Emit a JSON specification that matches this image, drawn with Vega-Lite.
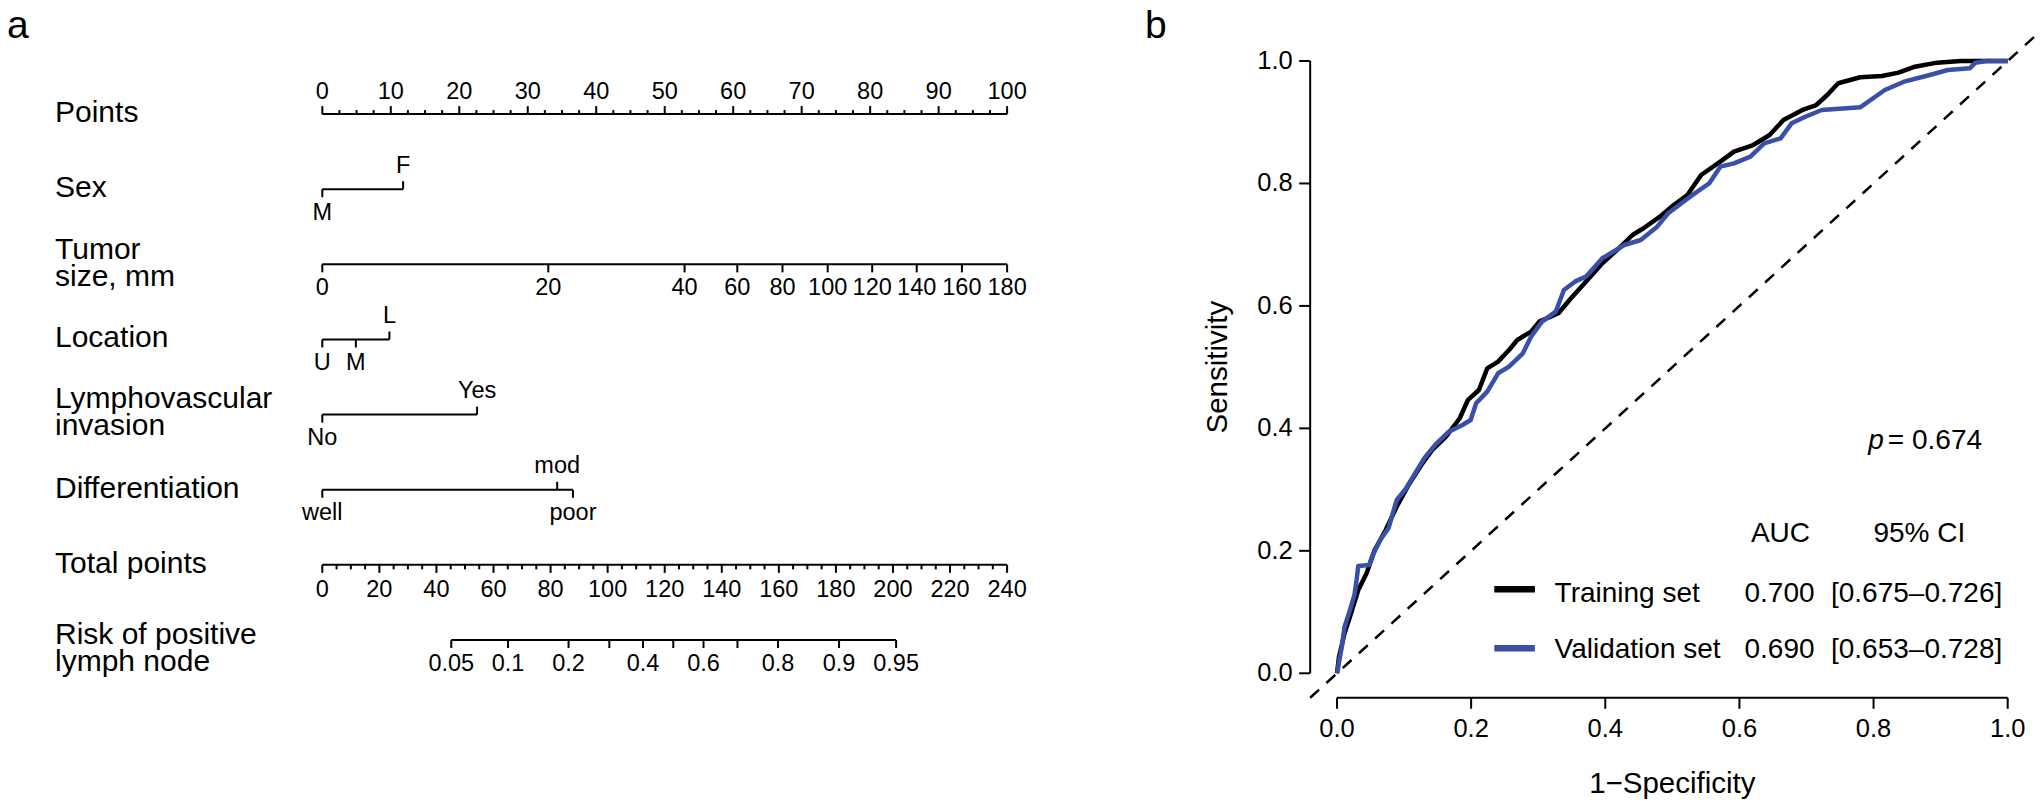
{
  "$schema": "https://vega.github.io/schema/vega-lite/v6.json",
  "width": 2040,
  "height": 805,
  "padding": 0,
  "autosize": {"type": "fit", "contains": "padding"},
  "background": "white",
  "config": {"font": "Liberation Sans", "view": {"stroke": null}},
  "datasets": {
    "nomo_lines": [
      {"var": "Points", "pts": 0, "pts_end": 100},
      {"var": "Sex", "pts": 0, "pts_end": 11.8},
      {"var": "Tumor\nsize, mm", "pts": 0, "pts_end": 100},
      {"var": "Location", "pts": 0, "pts_end": 9.8},
      {"var": "Lymphovascular\ninvasion", "pts": 0, "pts_end": 22.6},
      {"var": "Differentiation", "pts": 0, "pts_end": 36.6}
    ],
    "points_major": [
      {"var": "Points", "pts": 0, "label": "0"}, {"var": "Points", "pts": 10, "label": "10"},
      {"var": "Points", "pts": 20, "label": "20"}, {"var": "Points", "pts": 30, "label": "30"},
      {"var": "Points", "pts": 40, "label": "40"}, {"var": "Points", "pts": 50, "label": "50"},
      {"var": "Points", "pts": 60, "label": "60"}, {"var": "Points", "pts": 70, "label": "70"},
      {"var": "Points", "pts": 80, "label": "80"}, {"var": "Points", "pts": 90, "label": "90"},
      {"var": "Points", "pts": 100, "label": "100"}
    ],
    "points_minor": [
      {"var": "Points", "pts": 2.5}, {"var": "Points", "pts": 5}, {"var": "Points", "pts": 7.5},
      {"var": "Points", "pts": 12.5}, {"var": "Points", "pts": 15}, {"var": "Points", "pts": 17.5},
      {"var": "Points", "pts": 22.5}, {"var": "Points", "pts": 25}, {"var": "Points", "pts": 27.5},
      {"var": "Points", "pts": 32.5}, {"var": "Points", "pts": 35}, {"var": "Points", "pts": 37.5},
      {"var": "Points", "pts": 42.5}, {"var": "Points", "pts": 45}, {"var": "Points", "pts": 47.5},
      {"var": "Points", "pts": 52.5}, {"var": "Points", "pts": 55}, {"var": "Points", "pts": 57.5},
      {"var": "Points", "pts": 62.5}, {"var": "Points", "pts": 65}, {"var": "Points", "pts": 67.5},
      {"var": "Points", "pts": 72.5}, {"var": "Points", "pts": 75}, {"var": "Points", "pts": 77.5},
      {"var": "Points", "pts": 82.5}, {"var": "Points", "pts": 85}, {"var": "Points", "pts": 87.5},
      {"var": "Points", "pts": 92.5}, {"var": "Points", "pts": 95}, {"var": "Points", "pts": 97.5}
    ],
    "levels_up": [
      {"var": "Sex", "level": "F", "pts": 11.8},
      {"var": "Location", "level": "L", "pts": 9.8},
      {"var": "Lymphovascular\ninvasion", "level": "Yes", "pts": 22.6},
      {"var": "Differentiation", "level": "mod", "pts": 34.3}
    ],
    "levels_down": [
      {"var": "Sex", "level": "M", "pts": 0},
      {"var": "Tumor\nsize, mm", "level": "0", "pts": 0},
      {"var": "Tumor\nsize, mm", "level": "20", "pts": 33.0},
      {"var": "Tumor\nsize, mm", "level": "40", "pts": 52.9},
      {"var": "Tumor\nsize, mm", "level": "60", "pts": 60.6},
      {"var": "Tumor\nsize, mm", "level": "80", "pts": 67.2},
      {"var": "Tumor\nsize, mm", "level": "100", "pts": 73.8},
      {"var": "Tumor\nsize, mm", "level": "120", "pts": 80.3},
      {"var": "Tumor\nsize, mm", "level": "140", "pts": 86.8},
      {"var": "Tumor\nsize, mm", "level": "160", "pts": 93.4},
      {"var": "Tumor\nsize, mm", "level": "180", "pts": 100},
      {"var": "Location", "level": "U", "pts": 0},
      {"var": "Location", "level": "M", "pts": 4.9},
      {"var": "Lymphovascular\ninvasion", "level": "No", "pts": 0},
      {"var": "Differentiation", "level": "well", "pts": 0},
      {"var": "Differentiation", "level": "poor", "pts": 36.6}
    ],
    "total_lines": [
      {"var": "Total points", "tot": 0, "tot_end": 240},
      {"var": "Risk of positive\nlymph node", "tot": 45.2, "tot_end": 201.1}
    ],
    "total_major": [
      {"var": "Total points", "tot": 0, "label": "0"}, {"var": "Total points", "tot": 20, "label": "20"},
      {"var": "Total points", "tot": 40, "label": "40"}, {"var": "Total points", "tot": 60, "label": "60"},
      {"var": "Total points", "tot": 80, "label": "80"}, {"var": "Total points", "tot": 100, "label": "100"},
      {"var": "Total points", "tot": 120, "label": "120"}, {"var": "Total points", "tot": 140, "label": "140"},
      {"var": "Total points", "tot": 160, "label": "160"}, {"var": "Total points", "tot": 180, "label": "180"},
      {"var": "Total points", "tot": 200, "label": "200"}, {"var": "Total points", "tot": 220, "label": "220"},
      {"var": "Total points", "tot": 240, "label": "240"}
    ],
    "total_minor": [
      {"var": "Total points", "tot": 5}, {"var": "Total points", "tot": 10}, {"var": "Total points", "tot": 15},
      {"var": "Total points", "tot": 25}, {"var": "Total points", "tot": 30}, {"var": "Total points", "tot": 35},
      {"var": "Total points", "tot": 45}, {"var": "Total points", "tot": 50}, {"var": "Total points", "tot": 55},
      {"var": "Total points", "tot": 65}, {"var": "Total points", "tot": 70}, {"var": "Total points", "tot": 75},
      {"var": "Total points", "tot": 85}, {"var": "Total points", "tot": 90}, {"var": "Total points", "tot": 95},
      {"var": "Total points", "tot": 105}, {"var": "Total points", "tot": 110}, {"var": "Total points", "tot": 115},
      {"var": "Total points", "tot": 125}, {"var": "Total points", "tot": 130}, {"var": "Total points", "tot": 135},
      {"var": "Total points", "tot": 145}, {"var": "Total points", "tot": 150}, {"var": "Total points", "tot": 155},
      {"var": "Total points", "tot": 165}, {"var": "Total points", "tot": 170}, {"var": "Total points", "tot": 175},
      {"var": "Total points", "tot": 185}, {"var": "Total points", "tot": 190}, {"var": "Total points", "tot": 195},
      {"var": "Total points", "tot": 205}, {"var": "Total points", "tot": 210}, {"var": "Total points", "tot": 215},
      {"var": "Total points", "tot": 225}, {"var": "Total points", "tot": 230}, {"var": "Total points", "tot": 235}
    ],
    "risk": [
      {"var": "Risk of positive\nlymph node", "tot": 45.2, "risk": 0.05, "label": "0.05"},
      {"var": "Risk of positive\nlymph node", "tot": 65.1, "risk": 0.1, "label": "0.1"},
      {"var": "Risk of positive\nlymph node", "tot": 86.3, "risk": 0.2, "label": "0.2"},
      {"var": "Risk of positive\nlymph node", "tot": 100.6, "risk": 0.3, "label": ""},
      {"var": "Risk of positive\nlymph node", "tot": 112.4, "risk": 0.4, "label": "0.4"},
      {"var": "Risk of positive\nlymph node", "tot": 123.0, "risk": 0.5, "label": ""},
      {"var": "Risk of positive\nlymph node", "tot": 133.6, "risk": 0.6, "label": "0.6"},
      {"var": "Risk of positive\nlymph node", "tot": 145.5, "risk": 0.7, "label": ""},
      {"var": "Risk of positive\nlymph node", "tot": 159.7, "risk": 0.8, "label": "0.8"},
      {"var": "Risk of positive\nlymph node", "tot": 181.1, "risk": 0.9, "label": "0.9"},
      {"var": "Risk of positive\nlymph node", "tot": 201.1, "risk": 0.95, "label": "0.95"}
    ],
    "roc": [
      {"set": "Training set", "fpr": 0, "sens": 0},
      {"set": "Training set", "fpr": 0.003, "sens": 0.027},
      {"set": "Training set", "fpr": 0.0113, "sens": 0.0653},
      {"set": "Training set", "fpr": 0.0194, "sens": 0.0925},
      {"set": "Training set", "fpr": 0.0317, "sens": 0.136},
      {"set": "Training set", "fpr": 0.044, "sens": 0.163},
      {"set": "Training set", "fpr": 0.0562, "sens": 0.2014},
      {"set": "Training set", "fpr": 0.0726, "sens": 0.234},
      {"set": "Training set", "fpr": 0.089, "sens": 0.272},
      {"set": "Training set", "fpr": 0.1053, "sens": 0.3048},
      {"set": "Training set", "fpr": 0.1257, "sens": 0.3402},
      {"set": "Training set", "fpr": 0.1421, "sens": 0.3647},
      {"set": "Training set", "fpr": 0.1625, "sens": 0.3864},
      {"set": "Training set", "fpr": 0.183, "sens": 0.4165},
      {"set": "Training set", "fpr": 0.195, "sens": 0.446},
      {"set": "Training set", "fpr": 0.2116, "sens": 0.4627},
      {"set": "Training set", "fpr": 0.224, "sens": 0.498},
      {"set": "Training set", "fpr": 0.2402, "sens": 0.509},
      {"set": "Training set", "fpr": 0.2565, "sens": 0.528},
      {"set": "Training set", "fpr": 0.2688, "sens": 0.5443},
      {"set": "Training set", "fpr": 0.2893, "sens": 0.558},
      {"set": "Training set", "fpr": 0.3016, "sens": 0.5743},
      {"set": "Training set", "fpr": 0.3302, "sens": 0.588},
      {"set": "Training set", "fpr": 0.3466, "sens": 0.6097},
      {"set": "Training set", "fpr": 0.3711, "sens": 0.6396},
      {"set": "Training set", "fpr": 0.3956, "sens": 0.6696},
      {"set": "Training set", "fpr": 0.4202, "sens": 0.694},
      {"set": "Training set", "fpr": 0.4406, "sens": 0.7158},
      {"set": "Training set", "fpr": 0.457, "sens": 0.7268},
      {"set": "Training set", "fpr": 0.4815, "sens": 0.7457},
      {"set": "Training set", "fpr": 0.502, "sens": 0.7648},
      {"set": "Training set", "fpr": 0.5224, "sens": 0.7812},
      {"set": "Training set", "fpr": 0.5429, "sens": 0.8138},
      {"set": "Training set", "fpr": 0.5715, "sens": 0.8356},
      {"set": "Training set", "fpr": 0.5919, "sens": 0.852},
      {"set": "Training set", "fpr": 0.6205, "sens": 0.8628},
      {"set": "Training set", "fpr": 0.645, "sens": 0.8791},
      {"set": "Training set", "fpr": 0.6656, "sens": 0.9036},
      {"set": "Training set", "fpr": 0.6941, "sens": 0.92},
      {"set": "Training set", "fpr": 0.7146, "sens": 0.9281},
      {"set": "Training set", "fpr": 0.7309, "sens": 0.9445},
      {"set": "Training set", "fpr": 0.7473, "sens": 0.9636},
      {"set": "Training set", "fpr": 0.78, "sens": 0.9734},
      {"set": "Training set", "fpr": 0.8126, "sens": 0.9755},
      {"set": "Training set", "fpr": 0.8372, "sens": 0.981},
      {"set": "Training set", "fpr": 0.8618, "sens": 0.9907},
      {"set": "Training set", "fpr": 0.8944, "sens": 0.9973},
      {"set": "Training set", "fpr": 0.93, "sens": 1.0},
      {"set": "Training set", "fpr": 1.0, "sens": 1.0},
      {"set": "Validation set", "fpr": 0, "sens": 0},
      {"set": "Validation set", "fpr": 0.0072, "sens": 0.0435},
      {"set": "Validation set", "fpr": 0.0113, "sens": 0.0761},
      {"set": "Validation set", "fpr": 0.0194, "sens": 0.1034},
      {"set": "Validation set", "fpr": 0.026, "sens": 0.1279},
      {"set": "Validation set", "fpr": 0.0292, "sens": 0.1524},
      {"set": "Validation set", "fpr": 0.0317, "sens": 0.1752},
      {"set": "Validation set", "fpr": 0.048, "sens": 0.1768},
      {"set": "Validation set", "fpr": 0.0522, "sens": 0.1905},
      {"set": "Validation set", "fpr": 0.0644, "sens": 0.2177},
      {"set": "Validation set", "fpr": 0.0767, "sens": 0.2368},
      {"set": "Validation set", "fpr": 0.089, "sens": 0.283},
      {"set": "Validation set", "fpr": 0.1012, "sens": 0.2994},
      {"set": "Validation set", "fpr": 0.1135, "sens": 0.3211},
      {"set": "Validation set", "fpr": 0.1299, "sens": 0.3511},
      {"set": "Validation set", "fpr": 0.1463, "sens": 0.3729},
      {"set": "Validation set", "fpr": 0.1667, "sens": 0.3946},
      {"set": "Validation set", "fpr": 0.1871, "sens": 0.4055},
      {"set": "Validation set", "fpr": 0.1993, "sens": 0.4137},
      {"set": "Validation set", "fpr": 0.2074, "sens": 0.441},
      {"set": "Validation set", "fpr": 0.224, "sens": 0.46},
      {"set": "Validation set", "fpr": 0.2402, "sens": 0.49},
      {"set": "Validation set", "fpr": 0.2565, "sens": 0.5008},
      {"set": "Validation set", "fpr": 0.2771, "sens": 0.5226},
      {"set": "Validation set", "fpr": 0.2893, "sens": 0.5497},
      {"set": "Validation set", "fpr": 0.3057, "sens": 0.5743},
      {"set": "Validation set", "fpr": 0.3261, "sens": 0.5906},
      {"set": "Validation set", "fpr": 0.3383, "sens": 0.626},
      {"set": "Validation set", "fpr": 0.3547, "sens": 0.6396},
      {"set": "Validation set", "fpr": 0.3711, "sens": 0.6478},
      {"set": "Validation set", "fpr": 0.3956, "sens": 0.6778},
      {"set": "Validation set", "fpr": 0.4284, "sens": 0.6995},
      {"set": "Validation set", "fpr": 0.4528, "sens": 0.7077},
      {"set": "Validation set", "fpr": 0.4774, "sens": 0.7294},
      {"set": "Validation set", "fpr": 0.4938, "sens": 0.7513},
      {"set": "Validation set", "fpr": 0.5265, "sens": 0.7784},
      {"set": "Validation set", "fpr": 0.5551, "sens": 0.8003},
      {"set": "Validation set", "fpr": 0.5715, "sens": 0.8274},
      {"set": "Validation set", "fpr": 0.5919, "sens": 0.8329},
      {"set": "Validation set", "fpr": 0.6164, "sens": 0.8437},
      {"set": "Validation set", "fpr": 0.6369, "sens": 0.8656},
      {"set": "Validation set", "fpr": 0.6614, "sens": 0.8737},
      {"set": "Validation set", "fpr": 0.6778, "sens": 0.8982},
      {"set": "Validation set", "fpr": 0.6982, "sens": 0.909},
      {"set": "Validation set", "fpr": 0.7227, "sens": 0.92},
      {"set": "Validation set", "fpr": 0.78, "sens": 0.9244},
      {"set": "Validation set", "fpr": 0.8168, "sens": 0.9526},
      {"set": "Validation set", "fpr": 0.8454, "sens": 0.9662},
      {"set": "Validation set", "fpr": 0.8782, "sens": 0.9755},
      {"set": "Validation set", "fpr": 0.9108, "sens": 0.9853},
      {"set": "Validation set", "fpr": 0.9435, "sens": 0.988},
      {"set": "Validation set", "fpr": 0.9517, "sens": 0.9973},
      {"set": "Validation set", "fpr": 0.968, "sens": 1.0},
      {"set": "Validation set", "fpr": 1.0, "sens": 1.0}
    ],
    "roc_ticks": [
      {"v": 0, "label": "0.0"}, {"v": 0.2, "label": "0.2"}, {"v": 0.4, "label": "0.4"},
      {"v": 0.6, "label": "0.6"}, {"v": 0.8, "label": "0.8"}, {"v": 1.0, "label": "1.0"}
    ],
    "auc": [
      {"set": "Training set", "auc": "0.700", "ci": "[0.675–0.726]"},
      {"set": "Validation set", "auc": "0.690", "ci": "[0.653–0.728]"}
    ]
  },
  "layer": [
    {
      "encoding": {
        "y": {
          "field": "var",
          "type": "nominal",
          "scale": {
            "type": "point",
            "domain": ["Points", "Sex", "Tumor\nsize, mm", "Location", "Lymphovascular\ninvasion", "Differentiation", "Total points", "Risk of positive\nlymph node"],
            "range": [114.1, 640.0],
            "padding": 0
          },
          "axis": {
            "orient": "left",
            "title": null,
            "domain": false,
            "ticks": false,
            "tickSize": 0,
            "grid": false,
            "labelPadding": -54.5,
            "labelAlign": "left",
            "labelBaseline": "middle",
            "labelFontSize": 30,
            "labelColor": "black",
            "labelLimit": 0,
            "labelOverlap": false,
            "labelLineHeight": 27,
            "labelOffset": {
              "condition": [
                {"test": "indexof(datum.value, 'Risk') == 0", "value": -5.5},
                {"test": "indexof(datum.value, 'Tumor') == 0", "value": -15},
                {"test": "indexof(datum.value, 'Lymph') == 0", "value": -16.5}
              ],
              "value": -1.5
            },
            "labelExpr": "split(datum.label, '\\n')"
          }
        }
      },
      "layer": [
        {
          "encoding": {
            "x": {"field": "pts", "type": "quantitative", "scale": {"domain": [-47.065, 250.83], "nice": false, "zero": false}, "axis": null}
          },
          "layer": [
            {"data": {"name": "nomo_lines"}, "mark": {"type": "rule", "strokeWidth": 2, "color": "black"}, "encoding": {"x2": {"field": "pts_end"}}},
            {"data": {"name": "points_major"}, "mark": {"type": "tick", "orient": "vertical", "size": 8, "thickness": 2, "yOffset": -4, "color": "black", "opacity": 1}, "encoding": {}},
            {"data": {"name": "points_minor"}, "mark": {"type": "tick", "orient": "vertical", "size": 4, "thickness": 2, "yOffset": -2, "color": "black", "opacity": 1}, "encoding": {}},
            {"data": {"name": "points_major"}, "mark": {"type": "text", "fontSize": 23.5, "baseline": "alphabetic", "align": "center", "dy": -15.5, "color": "black"}, "encoding": {"text": {"field": "label"}}},
            {"data": {"name": "levels_up"}, "mark": {"type": "tick", "orient": "vertical", "size": 8, "thickness": 2, "yOffset": -4, "color": "black", "opacity": 1}, "encoding": {}},
            {"data": {"name": "levels_up"}, "mark": {"type": "text", "fontSize": 23.5, "baseline": "alphabetic", "align": "center", "dy": -16.5, "color": "black"}, "encoding": {"text": {"field": "level"}}},
            {"data": {"name": "levels_down"}, "mark": {"type": "tick", "orient": "vertical", "size": 8, "thickness": 2, "yOffset": 4, "color": "black", "opacity": 1}, "encoding": {}},
            {"data": {"name": "levels_down"}, "mark": {"type": "text", "fontSize": 23.5, "baseline": "alphabetic", "align": "center", "dy": 30.5, "color": "black"}, "encoding": {"text": {"field": "level"}}}
          ]
        },
        {
          "encoding": {
            "x": {"field": "tot", "type": "quantitative", "scale": {"domain": [-112.956, 602.0], "nice": false, "zero": false}, "axis": null}
          },
          "layer": [
            {"data": {"name": "total_lines"}, "mark": {"type": "rule", "strokeWidth": 2, "color": "black"}, "encoding": {"x2": {"field": "tot_end"}}},
            {"data": {"name": "total_major"}, "mark": {"type": "tick", "orient": "vertical", "size": 8, "thickness": 2, "yOffset": 4, "color": "black", "opacity": 1}, "encoding": {}},
            {"data": {"name": "total_minor"}, "mark": {"type": "tick", "orient": "vertical", "size": 4.5, "thickness": 2, "yOffset": 2.25, "color": "black", "opacity": 1}, "encoding": {}},
            {"data": {"name": "total_major"}, "mark": {"type": "text", "fontSize": 23.5, "baseline": "alphabetic", "align": "center", "dy": 32, "color": "black"}, "encoding": {"text": {"field": "label"}}},
            {"data": {"name": "risk"}, "mark": {"type": "tick", "orient": "vertical", "size": 8, "thickness": 2, "yOffset": 4, "color": "black", "opacity": 1}, "encoding": {}},
            {"data": {"name": "risk"}, "mark": {"type": "text", "fontSize": 23.5, "baseline": "alphabetic", "align": "center", "dy": 30.5, "color": "black"}, "encoding": {"text": {"field": "label"}}}
          ]
        }
      ],
      "resolve": {"scale": {"x": "independent"}, "axis": {"x": "independent"}}
    },
    {
      "layer": [
        {"data": {"name": "roc"}, "mark": {"type": "line", "strokeWidth": 4.5, "strokeJoin": "round"},
         "encoding": {
           "x": {"field": "fpr", "type": "quantitative", "scale": {"domain": [-1.99344, 1.04816], "nice": false, "zero": false}, "axis": null},
           "y": {"field": "sens", "type": "quantitative", "scale": {"domain": [-0.21509, 1.09962], "nice": false, "zero": false}, "axis": null},
           "color": {"field": "set", "type": "nominal", "scale": {"domain": ["Training set", "Validation set"], "range": ["#000000", "#3A50A8"]}, "legend": null}}},
        {"data": {"values": [{}]}, "mark": {"type": "rule", "strokeDash": [12, 10], "strokeWidth": 2.5, "color": "black"},
         "encoding": {"x": {"datum": -0.04, "type": "quantitative", "axis": null}, "x2": {"datum": 1.04}, "y": {"datum": -0.04, "type": "quantitative", "axis": null}, "y2": {"datum": 1.04}}},
        {"data": {"values": [{}]}, "mark": {"type": "rule", "strokeWidth": 2, "color": "black"},
         "encoding": {"x": {"datum": 0, "type": "quantitative", "axis": null}, "x2": {"datum": 1}, "y": {"datum": -0.04, "type": "quantitative", "axis": null}}},
        {"data": {"values": [{}]}, "mark": {"type": "rule", "strokeWidth": 2, "color": "black"},
         "encoding": {"y": {"datum": 0, "type": "quantitative", "axis": null}, "y2": {"datum": 1}, "x": {"datum": -0.04, "type": "quantitative", "axis": null}}},
        {"data": {"name": "roc_ticks"}, "mark": {"type": "tick", "orient": "vertical", "size": 11, "thickness": 2, "yOffset": 5.5, "color": "black", "opacity": 1},
         "encoding": {"x": {"field": "v", "type": "quantitative", "axis": null}, "y": {"datum": -0.04, "type": "quantitative", "axis": null}}},
        {"data": {"name": "roc_ticks"}, "mark": {"type": "text", "fontSize": 25.5, "align": "center", "baseline": "alphabetic", "dy": 39, "color": "black"},
         "encoding": {"x": {"field": "v", "type": "quantitative", "axis": null}, "y": {"datum": -0.04, "type": "quantitative", "axis": null}, "text": {"field": "label"}}},
        {"data": {"name": "roc_ticks"}, "mark": {"type": "tick", "orient": "horizontal", "size": 11, "thickness": 2, "xOffset": -5.5, "color": "black", "opacity": 1},
         "encoding": {"y": {"field": "v", "type": "quantitative", "axis": null}, "x": {"datum": -0.04, "type": "quantitative", "axis": null}}},
        {"data": {"name": "roc_ticks"}, "mark": {"type": "text", "fontSize": 25.5, "align": "right", "baseline": "middle", "dx": -17.5, "color": "black"},
         "encoding": {"y": {"field": "v", "type": "quantitative", "axis": null}, "x": {"datum": -0.04, "type": "quantitative", "axis": null}, "text": {"field": "label"}}},
        {"data": {"values": [{"label": "Sensitivity"}]}, "mark": {"type": "text", "fontSize": 29.5, "angle": 270, "align": "center", "baseline": "alphabetic", "color": "black"},
         "encoding": {"x": {"datum": -0.164, "type": "quantitative", "axis": null}, "y": {"datum": 0.5, "type": "quantitative", "axis": null}, "text": {"field": "label"}}},
        {"data": {"values": [{"label": "1−Specificity"}]}, "mark": {"type": "text", "fontSize": 29.5, "align": "center", "baseline": "alphabetic", "color": "black"},
         "encoding": {"x": {"datum": 0.5, "type": "quantitative", "axis": null}, "y": {"datum": -0.195, "type": "quantitative", "axis": null}, "text": {"field": "label"}}},
        {"data": {"values": [{"label": "a"}]}, "mark": {"type": "text", "fontSize": 39, "align": "left", "baseline": "alphabetic", "color": "black"},
         "encoding": {"x": {"datum": -1.983, "type": "quantitative", "axis": null}, "y": {"datum": 1.0376, "type": "quantitative", "axis": null}, "text": {"field": "label"}}},
        {"data": {"values": [{"label": "b"}]}, "mark": {"type": "text", "fontSize": 39, "align": "left", "baseline": "alphabetic", "color": "black"},
         "encoding": {"x": {"datum": -0.2863, "type": "quantitative", "axis": null}, "y": {"datum": 1.0376, "type": "quantitative", "axis": null}, "text": {"field": "label"}}},
        {"data": {"values": [{"label": "p"}]}, "mark": {"type": "text", "fontSize": 28, "fontStyle": "italic", "align": "right", "baseline": "alphabetic", "dx": -2, "color": "black"},
         "encoding": {"x": {"datum": 0.8183, "type": "quantitative", "axis": null}, "y": {"datum": 0.3658, "type": "quantitative", "axis": null}, "text": {"field": "label"}}},
        {"data": {"values": [{"label": "= 0.674"}]}, "mark": {"type": "text", "fontSize": 28, "align": "left", "baseline": "alphabetic", "dx": 2, "color": "black"},
         "encoding": {"x": {"datum": 0.8183, "type": "quantitative", "axis": null}, "y": {"datum": 0.3658, "type": "quantitative", "axis": null}, "text": {"field": "label"}}},
        {"data": {"values": [{"label": "AUC"}]}, "mark": {"type": "text", "fontSize": 28, "align": "center", "baseline": "alphabetic", "color": "black"},
         "encoding": {"x": {"datum": 0.6612, "type": "quantitative", "axis": null}, "y": {"datum": 0.2149, "type": "quantitative", "axis": null}, "text": {"field": "label"}}},
        {"data": {"values": [{"label": "95% CI"}]}, "mark": {"type": "text", "fontSize": 28, "align": "center", "baseline": "alphabetic", "color": "black"},
         "encoding": {"x": {"datum": 0.8683, "type": "quantitative", "axis": null}, "y": {"datum": 0.2149, "type": "quantitative", "axis": null}, "text": {"field": "label"}}},
        {"data": {"name": "auc"}, "transform": [{"filter": "datum.set == 'Training set'"}], "mark": {"type": "rule", "strokeWidth": 6.5},
         "encoding": {"x": {"datum": 0.2345, "type": "quantitative", "axis": null}, "x2": {"datum": 0.2951}, "y": {"datum": 0.1372, "type": "quantitative", "axis": null}, "color": {"field": "set", "type": "nominal", "legend": null}}},
        {"data": {"name": "auc"}, "transform": [{"filter": "datum.set == 'Validation set'"}], "mark": {"type": "rule", "strokeWidth": 6.5},
         "encoding": {"x": {"datum": 0.2345, "type": "quantitative", "axis": null}, "x2": {"datum": 0.2951}, "y": {"datum": 0.0408, "type": "quantitative", "axis": null}, "color": {"field": "set", "type": "nominal", "legend": null}}},
        {"data": {"name": "auc"}, "transform": [{"filter": "datum.set == 'Training set'"}], "mark": {"type": "text", "fontSize": 28, "align": "left", "baseline": "alphabetic", "color": "black"},
         "encoding": {"x": {"datum": 0.3244, "type": "quantitative", "axis": null}, "y": {"datum": 0.1169, "type": "quantitative", "axis": null}, "text": {"field": "set"}}},
        {"data": {"name": "auc"}, "transform": [{"filter": "datum.set == 'Training set'"}], "mark": {"type": "text", "fontSize": 28, "align": "center", "baseline": "alphabetic", "color": "black"},
         "encoding": {"x": {"datum": 0.6598, "type": "quantitative", "axis": null}, "y": {"datum": 0.1169, "type": "quantitative", "axis": null}, "text": {"field": "auc"}}},
        {"data": {"name": "auc"}, "transform": [{"filter": "datum.set == 'Training set'"}], "mark": {"type": "text", "fontSize": 28, "align": "center", "baseline": "alphabetic", "color": "black"},
         "encoding": {"x": {"datum": 0.8642, "type": "quantitative", "axis": null}, "y": {"datum": 0.1169, "type": "quantitative", "axis": null}, "text": {"field": "ci"}}},
        {"data": {"name": "auc"}, "transform": [{"filter": "datum.set == 'Validation set'"}], "mark": {"type": "text", "fontSize": 28, "align": "left", "baseline": "alphabetic", "color": "black"},
         "encoding": {"x": {"datum": 0.3244, "type": "quantitative", "axis": null}, "y": {"datum": 0.0245, "type": "quantitative", "axis": null}, "text": {"field": "set"}}},
        {"data": {"name": "auc"}, "transform": [{"filter": "datum.set == 'Validation set'"}], "mark": {"type": "text", "fontSize": 28, "align": "center", "baseline": "alphabetic", "color": "black"},
         "encoding": {"x": {"datum": 0.6598, "type": "quantitative", "axis": null}, "y": {"datum": 0.0245, "type": "quantitative", "axis": null}, "text": {"field": "auc"}}},
        {"data": {"name": "auc"}, "transform": [{"filter": "datum.set == 'Validation set'"}], "mark": {"type": "text", "fontSize": 28, "align": "center", "baseline": "alphabetic", "color": "black"},
         "encoding": {"x": {"datum": 0.8642, "type": "quantitative", "axis": null}, "y": {"datum": 0.0245, "type": "quantitative", "axis": null}, "text": {"field": "ci"}}}
      ]
    }
  ],
  "resolve": {"scale": {"x": "independent", "y": "independent"}, "axis": {"x": "independent", "y": "independent"}}
}
